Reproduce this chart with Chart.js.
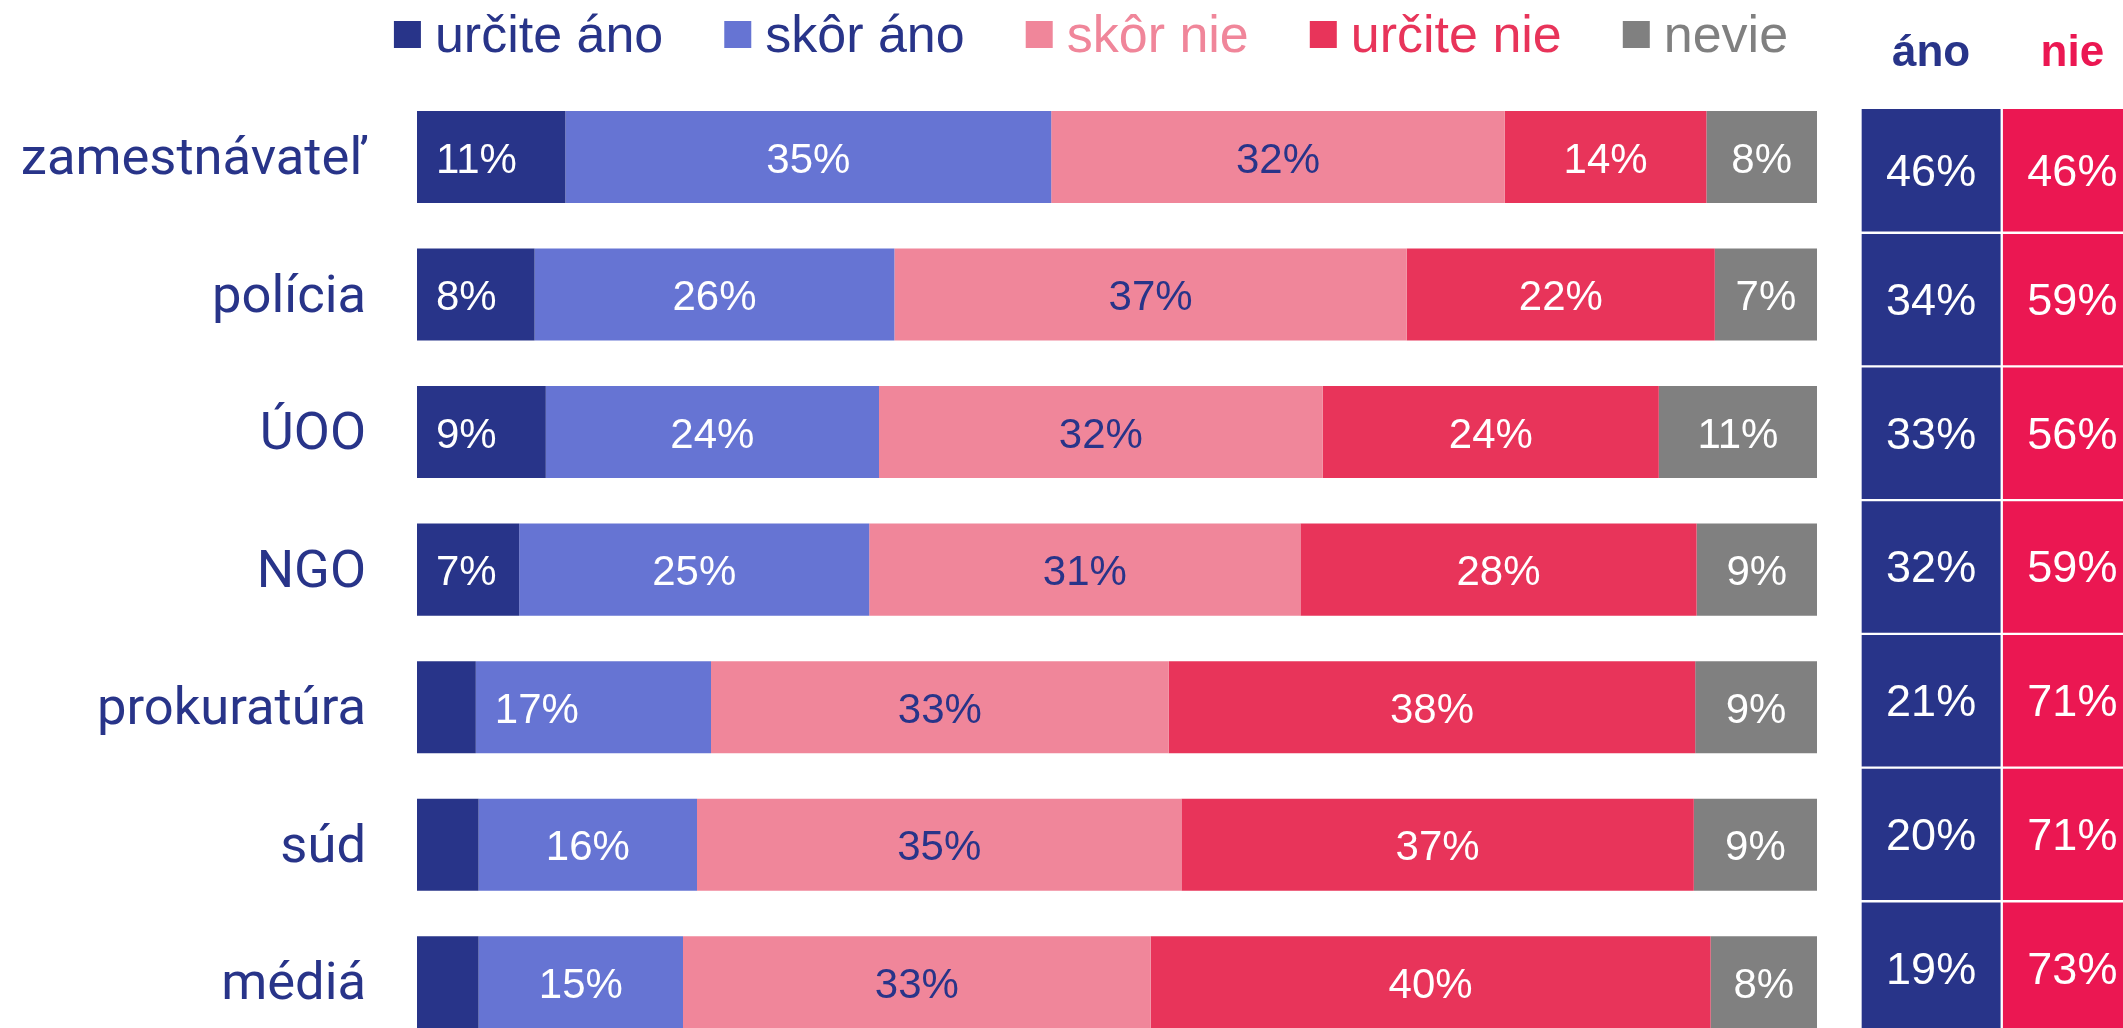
<!DOCTYPE html>
<html lang="sk">
<head>
<meta charset="utf-8">
<title>Dôvera v inštitúcie</title>
<script src="https://cdn.jsdelivr.net/npm/chart.js@4.4.1/dist/chart.umd.min.js"></script>
<style>
  html, body { margin: 0; padding: 0; background: #fff; overflow: hidden; width: 2123px; height: 1028px; }
  #graf { position: absolute; left: 0; top: 0; }
  #suhrn { position: absolute; left: 1860px; top: 0; }
</style>
</head>
<body>
<canvas id="graf" width="2123" height="1051"></canvas>
<canvas id="suhrn" width="283" height="1036"></canvas>
<script>
let kategorie = ['zamestnávateľ', 'polícia', 'ÚOO', 'NGO', 'prokuratúra', 'súd', 'médiá'];
let odpovede = ['určite áno', 'skôr áno', 'skôr nie', 'určite nie', 'nevie'];

// podiely v %, odčítané z obrázka
let urciteAno = [10.6, 8.4, 9.2, 7.3, 4.2, 4.4, 4.4];
let skorAno   = [34.7, 25.7, 23.8, 25.0, 16.8, 15.6, 14.6];
let skorNie   = [32.4, 36.6, 31.7, 30.8, 32.7, 34.6, 33.4];
let urciteNie = [14.4, 22.0, 24.0, 28.3, 37.6, 36.6, 40.0];
let nevie     = [7.9, 7.3, 11.3, 8.6, 8.7, 8.8, 7.6];

// súhrn vpravo
let stlpce = ['áno', 'nie'];
let ano = [46, 34, 33, 32, 21, 20, 19];
let nie = [46, 59, 56, 59, 71, 71, 73];

const MODRA = '#283489';
const SVETLOMODRA = '#6674D3';
const RUZOVA = '#F0869A';
const CERVENA = '#E8345A';
const SIVA = '#808080';
const CERVENA_SUHRN = '#EB1752';
const PISMO = '"Liberation Sans", Arial, sans-serif';

let farbyTextu = [MODRA, MODRA, RUZOVA, CERVENA, SIVA];

const popisky = {
  id: 'popisky',
  afterDatasetsDraw(chart) {
    const ctx = chart.ctx;
    ctx.save();
    ctx.font = '42px ' + PISMO;
    ctx.textBaseline = 'middle';
    chart.data.datasets.forEach((ds, i) => {
      chart.getDatasetMeta(i).data.forEach((bar, j) => {
        const v = ds.data[j];
        if (v < 5) return;
        const zlava = i === 0 || (i === 1 && j === 4);
        ctx.fillStyle = i === 2 ? MODRA : '#fff';
        ctx.textAlign = zlava ? 'left' : 'center';
        const x = zlava ? bar.base + 19 : (bar.base + bar.x) / 2;
        ctx.fillText(Math.round(v) + '%', x, bar.y + 4);
      });
    });
    ctx.restore();
  }
};

const legenda = {
  id: 'legenda',
  afterDraw(chart) {
    const ctx = chart.ctx;
    ctx.save();
    ctx.font = '52px ' + PISMO;
    ctx.textBaseline = 'alphabetic';
    ctx.textAlign = 'left';
    const sirky = chart.data.datasets.map(ds => ctx.measureText(ds.label).width);
    const spolu = sirky.reduce((a, b) => a + b, 0) + sirky.length * 41 + (sirky.length - 1) * 61;
    let x = 1091 - spolu / 2;
    chart.data.datasets.forEach((ds, i) => {
      ctx.fillStyle = ds.backgroundColor;
      ctx.fillRect(x, 21, 27, 27);
      ctx.fillStyle = farbyTextu[i];
      ctx.fillText(ds.label, x + 41, 52);
      x += 41 + sirky[i] + 61;
    });
    ctx.restore();
  }
};

function dataset(nazov, hodnoty, farba) {
  return { label: nazov, data: hodnoty, backgroundColor: farba, borderWidth: 0 };
}

new Chart(document.getElementById('graf'), {
  type: 'bar',
  data: {
    labels: kategorie,
    datasets: [
      dataset(odpovede[0], urciteAno, MODRA),
      dataset(odpovede[1], skorAno, SVETLOMODRA),
      dataset(odpovede[2], skorNie, RUZOVA),
      dataset(odpovede[3], urciteNie, CERVENA),
      dataset(odpovede[4], nevie, SIVA)
    ]
  },
  options: {
    responsive: false,
    animation: false,
    indexAxis: 'y',
    layout: { padding: { top: 88.25, right: 306, bottom: 0, left: 0 } },
    datasets: { bar: { categoryPercentage: 1, barPercentage: 0.669 } },
    plugins: { legend: { display: false }, tooltip: { enabled: false } },
    scales: {
      x: { stacked: true, min: 0, max: 100, display: false },
      y: {
        stacked: true,
        grid: { display: false, drawTicks: false },
        border: { display: false },
        ticks: { color: MODRA, font: { family: 'Roboto', size: 52.5 }, padding: 51, labelOffset: 4 },
        afterFit(s) {
          s.width = 417;
          s.paddingTop = 0;
          s.paddingBottom = 0;
        }
      }
    }
  },
  plugins: [popisky, legenda]
});

const suhrnPopisky = {
  id: 'suhrnPopisky',
  afterDatasetsDraw(chart) {
    const ctx = chart.ctx, area = chart.chartArea, xs = chart.scales.x;
    ctx.save();
    ctx.textAlign = 'center';
    ctx.font = 'bold 44px ' + PISMO;
    ctx.textBaseline = 'alphabetic';
    stlpce.forEach((nazov, i) => {
      ctx.fillStyle = chart.data.datasets[i].backgroundColor;
      ctx.fillText(nazov, xs.getPixelForValue(i + 0.5), 66);
    });
    ctx.font = '45px ' + PISMO;
    ctx.textBaseline = 'middle';
    ctx.fillStyle = '#fff';
    chart.data.datasets.forEach((ds, i) => {
      chart.getDatasetMeta(i).data.forEach((bunka, j) => {
        const hore = Math.max(bunka.y - bunka.height / 2, area.top + 10);
        const dole = bunka.y + bunka.height / 2;
        ctx.fillText(ds.data[j].pct + '%', (bunka.base + bunka.x) / 2, (hore + dole) / 2 + 3);
      });
    });
    ctx.restore();
  }
};

function bunky(hodnoty) {
  return kategorie.map((k, j) => ({ x: 1, y: k, pct: hodnoty[j] }));
}

function stlpec(nazov, hodnoty, farba) {
  return {
    label: nazov,
    data: bunky(hodnoty),
    backgroundColor: farba,
    borderColor: '#fff',
    borderWidth: 1.5,
    borderSkipped: false,
    clip: { left: 2, right: 2, top: -10, bottom: 2 }
  };
}

new Chart(document.getElementById('suhrn'), {
  type: 'bar',
  data: {
    labels: kategorie,
    datasets: [stlpec(stlpce[0], ano, MODRA), stlpec(stlpce[1], nie, CERVENA_SUHRN)]
  },
  options: {
    responsive: false,
    animation: false,
    indexAxis: 'y',
    layout: { padding: { top: 99, bottom: 1, left: 0.5, right: 0 } },
    datasets: { bar: { categoryPercentage: 1, barPercentage: 1 } },
    plugins: { legend: { display: false }, tooltip: { enabled: false } },
    scales: {
      x: { stacked: true, min: 0, max: 2, display: false },
      y: { stacked: true, display: false }
    }
  },
  plugins: [suhrnPopisky]
});
</script>
</body>
</html>
